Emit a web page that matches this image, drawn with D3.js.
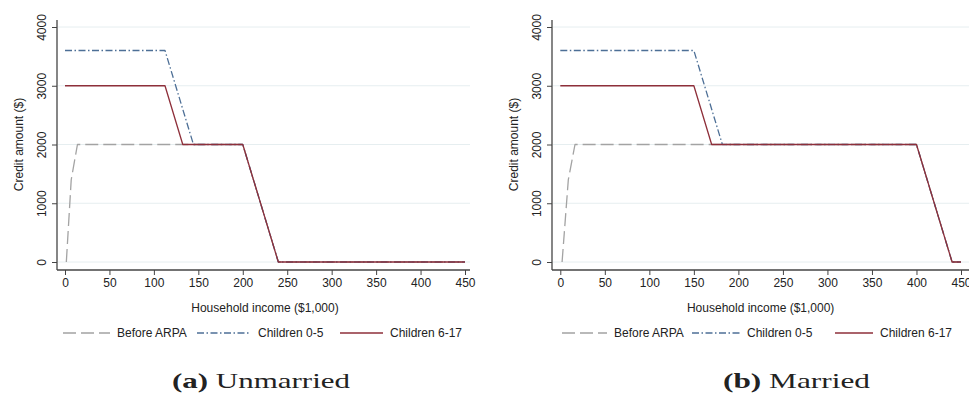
<!DOCTYPE html>
<html>
<head>
<meta charset="utf-8">
<script src="https://cdn.jsdelivr.net/npm/d3@7"></script>
<style>
  html, body { margin: 0; padding: 0; background: #fff; }
  svg { display: block; }
  text { font-family: "Liberation Sans", Arial, Helvetica, sans-serif; fill: #222; }
</style>
</head>
<body>
<svg id="chart" width="969" height="399"></svg>
<script>
// Child tax credit schedules by household income ($1,000)
const seriesNames = ["Before ARPA", "Children 0-5", "Children 6-17"];

const xTicks = [0, 50, 100, 150, 200, 250, 300, 350, 400, 450];
const yTicks = [0, 1000, 2000, 3000, 4000];

// Unmarried filers
const unmarriedBeforeX = [1.5, 7, 14, 200, 240, 450];
const unmarriedBeforeY = [0, 1400, 2000, 2000, 0, 0];
const unmarriedYoungX  = [0, 112.5, 144.5, 200, 240, 450];
const unmarriedYoungY  = [3600, 3600, 2000, 2000, 0, 0];
const unmarriedOlderX  = [0, 112.5, 132.5, 200, 240, 450];
const unmarriedOlderY  = [3000, 3000, 2000, 2000, 0, 0];

// Married filers
const marriedBeforeX = [2, 9, 16.5, 400, 440, 450];
const marriedBeforeY = [0, 1400, 2000, 2000, 0, 0];
const marriedYoungX  = [0, 150, 182, 400, 440, 450];
const marriedYoungY  = [3600, 3600, 2000, 2000, 0, 0];
const marriedOlderX  = [0, 150, 170, 400, 440, 450];
const marriedOlderY  = [3000, 3000, 2000, 2000, 0, 0];

const captions = [["(a)", "Unmarried"], ["(b)", "Married"]];

const styles = [
  { color: "#a3a3a3", dash: "13,5" },
  { color: "#4d6f96", dash: "7,2.5,1.5,2.5" },
  { color: "#8e2f3a", dash: null }
];

const zip = (xs, ys) => xs.map((x, i) => ({ x, y: ys[i] }));

const panels = [
  {
    series: [zip(unmarriedBeforeX, unmarriedBeforeY), zip(unmarriedYoungX, unmarriedYoungY), zip(unmarriedOlderX, unmarriedOlderY)],
    caption: captions[0],
    axisX: 57, xr: [65, 465], axisEnd: 470,
    legend: [63, 197, 340], legendLen: [47, 54, 43],
    capX: 172, capW: 178
  },
  {
    series: [zip(marriedBeforeX, marriedBeforeY), zip(marriedYoungX, marriedYoungY), zip(marriedOlderX, marriedOlderY)],
    caption: captions[1],
    axisX: 552, xr: [560.3, 961], axisEnd: 972,
    legend: [562, 692, 835], legendLen: [45, 48, 38],
    capX: 723, capW: 147
  }
];

const svg = d3.select("#chart");
const yr = [262, 27];
const axisY = 270, axisTop = 20;
const sans = "'Liberation Sans', Arial, sans-serif";

panels.forEach(p => {
  const g = svg.append("g");
  const x = d3.scaleLinear().domain([0, 450]).range(p.xr);
  const y = d3.scaleLinear().domain([0, 4000]).range(yr);

  // horizontal grid
  g.append("g").selectAll("line").data(yTicks).join("line")
    .attr("x1", p.axisX + 1).attr("x2", p.axisEnd)
    .attr("y1", d => y(d)).attr("y2", d => y(d))
    .attr("stroke", "#e6eef0").attr("stroke-width", 1);

  // series
  const line = d3.line().x(d => x(d.x)).y(d => y(d.y));
  p.series.forEach((s, i) => {
    g.append("path").datum(s)
      .attr("d", line)
      .attr("fill", "none")
      .attr("stroke", styles[i].color)
      .attr("stroke-width", 1.3)
      .attr("stroke-dasharray", styles[i].dash)
      .attr("stroke-linejoin", "round");
  });

  // x axis
  const xa = g.append("g").attr("transform", `translate(0,${axisY})`)
    .call(d3.axisBottom(x).tickValues(xTicks).tickFormat(d3.format("d")).tickSize(5).tickPadding(3));
  xa.select(".domain").remove();
  xa.selectAll(".tick line").attr("stroke", "#444");
  xa.selectAll(".tick text").style("font-size", "12px").attr("fill", "#222")
    .style("font-family", sans);
  g.append("line").attr("x1", p.axisX).attr("x2", p.axisEnd)
    .attr("y1", axisY).attr("y2", axisY).attr("stroke", "#444").attr("stroke-width", 1.3);

  // y axis
  const ya = g.append("g").attr("transform", `translate(${p.axisX},0)`)
    .call(d3.axisLeft(y).tickValues(yTicks).tickFormat(d3.format("d")).tickSize(5).tickPadding(0));
  ya.select(".domain").remove();
  ya.selectAll(".tick line").attr("stroke", "#444");
  ya.selectAll(".tick text")
    .style("font-size", "12px").attr("fill", "#222")
    .style("font-family", sans)
    .attr("x", 0).attr("dy", null)
    .attr("transform", `translate(-11,0) rotate(-90)`)
    .attr("text-anchor", "middle");
  g.append("line").attr("x1", p.axisX).attr("x2", p.axisX)
    .attr("y1", axisTop).attr("y2", axisY).attr("stroke", "#444").attr("stroke-width", 1.3);

  // axis titles
  g.append("text")
    .attr("x", (p.xr[0] + p.xr[1]) / 2).attr("y", 312)
    .attr("text-anchor", "middle").style("font-size", "12px")
    .text("Household income ($1,000)");
  g.append("text")
    .attr("transform", `translate(${p.axisX - 34},${(yr[0] + yr[1]) / 2}) rotate(-90)`)
    .attr("text-anchor", "middle").style("font-size", "12px")
    .text("Credit amount ($)");

  // legend
  const lg = g.append("g");
  seriesNames.forEach((name, i) => {
    const lx = p.legend[i];
    lg.append("line")
      .attr("x1", lx).attr("x2", lx + p.legendLen[i])
      .attr("y1", 333).attr("y2", 333)
      .attr("stroke", styles[i].color).attr("stroke-width", 1.3)
      .attr("stroke-dasharray", styles[i].dash);
    lg.append("text")
      .attr("x", lx + p.legendLen[i] + 7).attr("y", 337)
      .style("font-size", "12px")
      .text(name);
  });

  // caption: bold sub-figure letter, regular title
  const cap = g.append("text")
    .attr("x", p.capX).attr("y", 388)
    .attr("textLength", p.capW).attr("lengthAdjust", "spacingAndGlyphs")
    .style("font-family", "'Liberation Serif', 'Times New Roman', serif")
    .style("font-size", "22px").attr("fill", "#111");
  cap.append("tspan").style("font-weight", "bold").text(p.caption[0]);
  cap.append("tspan").text(" " + p.caption[1]);
});
</script>
</body>
</html>
